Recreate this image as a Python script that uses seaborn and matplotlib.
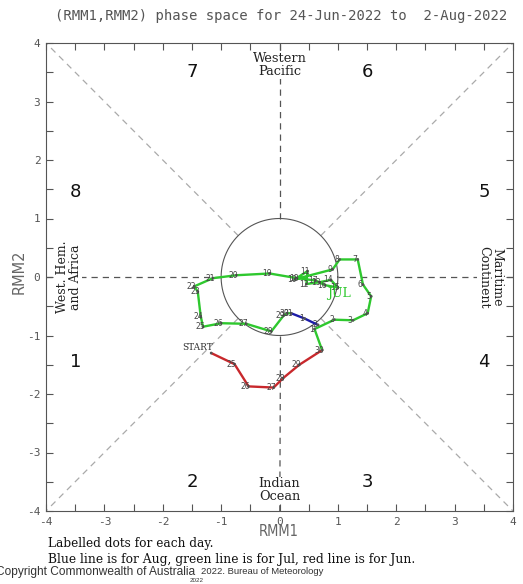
import numpy as np
import pandas as pd
import matplotlib
matplotlib.use("Agg")
import matplotlib.pyplot as plt
import seaborn as sns

# ---- data ----
jun_days = [24, 25, 26, 27, 28, 29, 30]
jun_rmm1 = [-1.17, -0.77, -0.53, -0.10, 0.06, 0.34, 0.73]
jun_rmm2 = [-1.30, -1.49, -1.87, -1.89, -1.73, -1.50, -1.25]

jul_days = list(range(1, 32))
jul_rmm1 = [0.60, 0.94, 1.26, 1.51, 1.57, 1.43, 1.34, 1.03, 0.91, 0.26,
            0.48, 0.46, 0.68, 0.88, 1.00, 0.78, 0.62, 0.30, -0.17, -0.74,
            -1.14, -1.46, -1.40, -1.35, -1.31, -1.00, -0.57, -0.14, 0.07, 0.13, 0.20]
jul_rmm2 = [-0.89, -0.73, -0.74, -0.62, -0.33, -0.13, 0.30, 0.30, 0.13, -0.04,
            0.10, -0.12, -0.09, -0.05, -0.18, -0.14, -0.06, -0.02, 0.06, 0.03,
            -0.02, -0.16, -0.25, -0.67, -0.85, -0.79, -0.80, -0.93, -0.66, -0.62, -0.62]

aug_days = [1, 2]
aug_rmm1 = [0.43, 0.66]
aug_rmm2 = [-0.71, -0.82]

phase_labels = ["1", "2", "3", "4", "5", "6", "7", "8"]
ticks = [-4, -3, -2, -1, 0, 1, 2, 3, 4]

title = "(RMM1,RMM2) phase space for 24-Jun-2022 to  2-Aug-2022"

# ---- figure ----
sns.set_theme(style="ticks")
plt.rcParams["font.family"] = ["DejaVu Sans"]
W, H = 523, 584
fig = plt.figure(figsize=(W / 100, H / 100), dpi=100)
fig.patch.set_facecolor("white")
L, R, T, B = 46, 513, 43, 511
ax = fig.add_axes([L / W, 1 - B / H, (R - L) / W, (B - T) / H])
ax.set_facecolor("white")

def fx(px):
    return px / W

def fy(py):
    return 1 - py / H

# reference lines outside the unit circle
far = 4 * np.sqrt(2)
for ang, col in [(0, "#555555"), (90, "#555555"), (180, "#555555"), (270, "#555555"),
                 (45, "#aaaaaa"), (135, "#aaaaaa"), (225, "#aaaaaa"), (315, "#aaaaaa")]:
    a = np.deg2rad(ang)
    r = np.array([1.0, far])
    ax.plot(r * np.cos(a), r * np.sin(a), color=col, lw=0.9, ls=(0, (5, 4)), zorder=1)

th = np.linspace(0, 2 * np.pi, 300)
ax.plot(np.cos(th), np.sin(th), color="#555555", lw=0.8, zorder=1)

# trajectories: each month's line starts at the previous month's last day
df_jun = pd.DataFrame({"rmm1": jun_rmm1, "rmm2": jun_rmm2, "day": jun_days})
df_jul = pd.DataFrame({"rmm1": [jun_rmm1[-1]] + jul_rmm1,
                       "rmm2": [jun_rmm2[-1]] + jul_rmm2})
df_aug = pd.DataFrame({"rmm1": [jul_rmm1[-1]] + aug_rmm1,
                       "rmm2": [jul_rmm2[-1]] + aug_rmm2})

sns.lineplot(data=df_jun, x="rmm1", y="rmm2", sort=False, estimator=None,
             color="#c8282c", lw=1.7, ax=ax, zorder=3)
sns.lineplot(data=df_jul, x="rmm1", y="rmm2", sort=False, estimator=None,
             color="#2ec82e", lw=1.7, ax=ax, zorder=3)
sns.lineplot(data=df_aug, x="rmm1", y="rmm2", sort=False, estimator=None,
             color="#1c1ca8", lw=1.7, ax=ax, zorder=4)

all_df = pd.DataFrame({"rmm1": jun_rmm1 + jul_rmm1 + aug_rmm1,
                       "rmm2": jun_rmm2 + jul_rmm2 + aug_rmm2,
                       "day": jun_days + jul_days + aug_days})
sns.scatterplot(data=all_df, x="rmm1", y="rmm2", s=4, color="#555555",
                edgecolor="none", ax=ax, zorder=5)

for i, row in all_df.iterrows():
    lab = "START" if i == 0 else str(int(row["day"]))
    if i == 0:
        ax.annotate(lab, (row["rmm1"], row["rmm2"]), xytext=(1, 1),
                    textcoords="offset points", ha="right", va="bottom",
                    fontsize=6.5, family="DejaVu Serif", color="#333333", zorder=6)
    else:
        ax.annotate(lab, (row["rmm1"], row["rmm2"]), xytext=(-2, 0),
                    textcoords="offset points", ha="center", va="center",
                    fontsize=5.5, color="#444444", zorder=6)

ax.text(1.01, -0.29, "JUL", color="#2ec82e", fontsize=9, family="DejaVu Serif",
        ha="center", va="center", zorder=6)

# phase numbers
phase_pos = [(-3.5, -1.45), (-1.5, -3.5), (1.5, -3.5), (3.5, -1.45),
             (3.5, 1.45), (1.5, 3.5), (-1.5, 3.5), (-3.5, 1.45)]
for lab, (px, py) in zip(phase_labels, phase_pos):
    ax.text(px, py, lab, fontsize=13, ha="center", va="center", color="#111111")

serif = "DejaVu Serif"
box = dict(facecolor="white", edgecolor="none", pad=0.5)
ax.text(0, 3.62, "Western\nPacific", ha="center", va="center", fontsize=9.3,
        family=serif, linespacing=0.95, color="#222222", bbox=box)
ax.text(0, -3.64, "Indian\nOcean", ha="center", va="center", fontsize=9.3,
        family=serif, linespacing=0.95, color="#222222", bbox=box)
ax.text(-3.61, 0, "West. Hem.\nand Africa", ha="center", va="center", fontsize=9.0,
        family=serif, rotation=90, linespacing=0.95, color="#222222", bbox=box)
ax.text(3.61, 0, "Maritime\nContinent", ha="center", va="center", fontsize=9.0,
        family=serif, rotation=-90, linespacing=0.95, color="#222222", bbox=box)

# axes styling
ax.set_xlim(-4, 4)
ax.set_ylim(-4, 4)
ax.set_xticks(ticks)
ax.set_yticks(ticks)
ax.set_xticks(np.arange(-4, 4.01, 0.5), minor=True)
ax.set_yticks(np.arange(-4, 4.01, 0.5), minor=True)
ax.set_xticklabels([str(t) for t in ticks], family="DejaVu Sans Mono", fontsize=8, color="#555555")
ax.set_yticklabels([str(t) for t in ticks], family="DejaVu Sans Mono", fontsize=8, color="#555555")
ax.tick_params(which="both", direction="in", length=5, width=0.8, color="#555555",
               top=True, right=True, pad=4)
for sp in ax.spines.values():
    sp.set_color("#555555")
    sp.set_linewidth(0.8)
ax.set_xlabel("")
ax.set_ylabel("")

fig.text(fx(279), fy(531), "RMM1", ha="center", va="center", fontsize=10.5,
         color="#666666", family="DejaVu Sans", fontstretch="condensed")
fig.text(fx(19), fy(272), "RMM2", ha="center", va="center", fontsize=10.5,
         color="#666666", rotation=90)

fig.text(fx(281), fy(16), title, ha="center", va="center", fontsize=10,
         family="DejaVu Sans Mono", color="#555555")

fig.text(fx(48), fy(544), "Labelled dots for each day.", ha="left", va="center",
         fontsize=8.7, family=serif, color="#111111")
fig.text(fx(48), fy(560), "Blue line is for Aug, green line is for Jul, red line is for Jun.",
         ha="left", va="center", fontsize=8.8, family=serif, color="#111111")
fig.text(fx(-4), fy(572), "Copyright Commonwealth of Australia", ha="left", va="center",
         fontsize=8.6, family="Liberation Sans", color="#333333")
fig.text(fx(201), fy(572), "2022. Bureau of Meteorology", ha="left", va="center",
         fontsize=6.8, family="Liberation Sans", color="#333333")
fig.text(fx(197), fy(581), "2022", ha="center", va="center",
         fontsize=4.5, family="Liberation Sans", color="#333333")

fig.savefig("out.png", dpi=100)
